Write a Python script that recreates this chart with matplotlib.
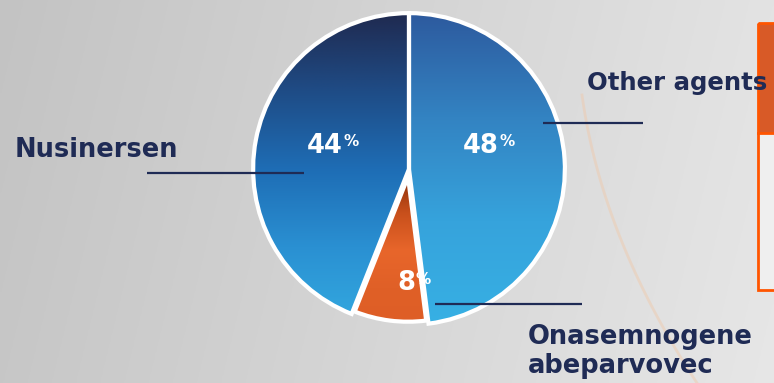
import matplotlib.pyplot as plt
import numpy as np
from matplotlib.colors import LinearSegmentedColormap
from matplotlib.patches import Rectangle

# data
drugs = ['Other agents', 'Onasemnogene\nabeparvovec', 'Nusinersen']
shares = [48, 8, 44]
pct_labels = ['48', '8', '44']

NAVY = '#1f2b55'
W, H = 774, 383

fig = plt.figure(figsize=(W / 100, H / 100), dpi=100)

# background (light grey gradient)
bg = fig.add_axes([0, 0, 1, 1], zorder=0)
xx = np.linspace(0, 1, 300)
yy = np.linspace(0, 1, 150)
X, Y = np.meshgrid(xx, yy)
shade = 0.765 + 0.125 * X + 0.015 * Y
bg.imshow(np.dstack([shade, shade, shade]), extent=(0, W, H, 0), aspect='auto')
# faint orange arc on the right
t = np.linspace(0, 1, 100)
bg.plot(582 + 40 * t + 75 * t ** 2, 95 + 288 * t, color='#f0c8a8', lw=2, alpha=0.45)
bg.set_xlim(0, W)
bg.set_ylim(H, 0)
bg.axis('off')

# pie
pie_ax = fig.add_axes([250 / W, 55 / H, 318 / W, 318 / H], zorder=1)
wedges, _ = pie_ax.pie(shares, startangle=90, counterclock=False, radius=1.0,
                       explode=[0, 0.05, 0],
                       wedgeprops=dict(facecolor='none', edgecolor='white',
                                       linewidth=3, zorder=3))
wedges[1].set_radius(0.93)

grads = [
    ['#2d5a9e', '#3383c2', '#36a3dc', '#37b0e4'],
    ['#8a300c', '#c9501c', '#e8662b', '#e06027', '#de5e26'],
    ['#1f2a50', '#1f4c86', '#1e6db5', '#2a90d2', '#33a9e0'],
]
ramp = np.linspace(0, 1, 256).reshape(-1, 1)
for i, (w, cols) in enumerate(zip(wedges, grads)):
    cmap = LinearSegmentedColormap.from_list('g', cols)
    ext = (-1.1, 1.1, -1.0, -0.05) if i == 1 else (-1.1, 1.1, -1.0, 1.0)
    im = pie_ax.imshow(ramp, cmap=cmap, extent=ext, origin='upper',
                       aspect='auto', zorder=1)
    im.set_clip_path(w)

pie_ax.set_xlim(-1.02, 1.02)
pie_ax.set_ylim(-1.02, 1.02)
pie_ax.set_aspect('equal')
pie_ax.axis('off')

# percentage labels with superscript %
lab_pos = [(0.46, 0.15), (-0.02, -0.73), (-0.54, 0.15)]
for (lx, ly), txt in zip(lab_pos, pct_labels):
    t_num = pie_ax.text(lx, ly, txt, color='white', fontsize=18.5,
                        fontweight='bold', ha='center', va='center', zorder=5)
    pie_ax.annotate('%', xy=(1, 0.93), xycoords=t_num, xytext=(0.3, 0),
                    textcoords='offset points', color='white', fontsize=11,
                    fontweight='bold', ha='left', va='top', zorder=5)

# overlay: leader lines, category labels, side box
ov = fig.add_axes([0, 0, 1, 1], zorder=3)
ov.set_xlim(0, W)
ov.set_ylim(H, 0)
ov.axis('off')

ov.add_patch(Rectangle((758, 23), 30, 110, facecolor='#d85a27', edgecolor='none'))
ov.add_patch(Rectangle((758, 133), 30, 157, facecolor='#efefef', edgecolor='none'))
ov.add_patch(Rectangle((758, 23), 30, 267, facecolor='none', edgecolor='#ff5500', lw=2))
ov.plot([758, 790], [133, 133], color='#ff5500', lw=2)

leaders = [((543, 643), (123, 123)), ((435, 582), (304, 304)), ((147, 304), (173, 173))]
label_xy = [(587, 90), (528, 373), (15, 157)]
label_size = [17.6, 18.5, 18.5]
for (lx, ly), (tx, ty), fs, name in zip(leaders, label_xy, label_size, drugs):
    ov.plot(lx, ly, color=NAVY, lw=1.6, solid_capstyle='butt')
    ov.text(tx, ty, name, color=NAVY, fontsize=fs, fontweight='bold',
            ha='left', va='baseline', linespacing=1.17, zorder=6)

fig.savefig('out.png', dpi=100)
